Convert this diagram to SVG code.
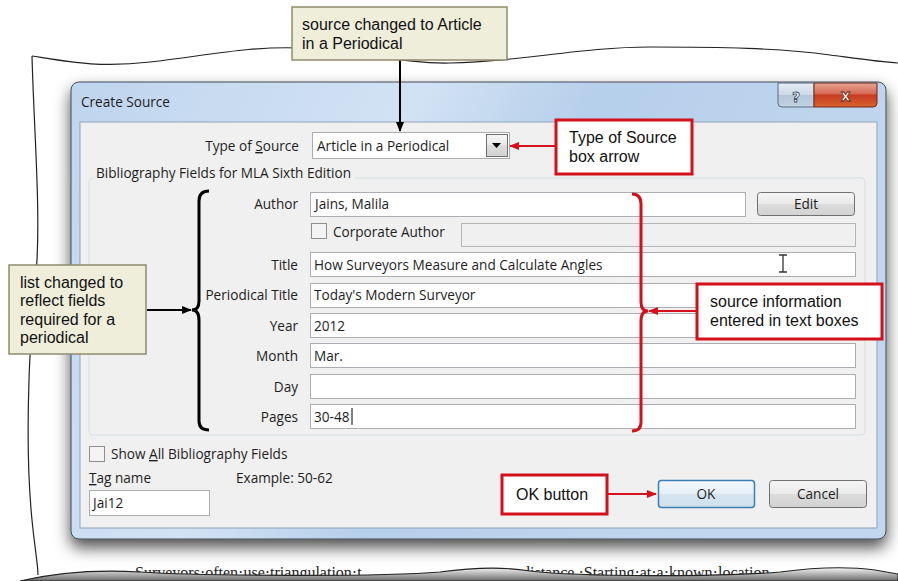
<svg xmlns="http://www.w3.org/2000/svg" width="898" height="581" viewBox="0 0 898 581">
<style>
.ui{font-family:"Open Sans","Noto Sans",sans-serif;font-size:13.6px;fill:#1e1e1e}
.lbl{text-anchor:end}
.co{font-family:"Liberation Sans",Arial,sans-serif;font-size:16px;fill:#111}
.box{fill:#fff;stroke:#abadb3;stroke-width:1}
.dis{fill:#f0f0f0;stroke:#b5b5b5;stroke-width:1}
.btn{stroke:#707070;stroke-width:1}
.beige{fill:#efeedb;stroke:#8e8c6c;stroke-width:1.5}
.red{fill:#fff;stroke:#d3101c;stroke-width:3}
.ak{stroke:#000;stroke-width:2;fill:none}
.ar{stroke:#d3101c;stroke-width:2;fill:none}
.u{text-decoration:underline}
</style>
<defs>
<marker id="mk" viewBox="0 0 10 10" refX="9" refY="5" markerWidth="5" markerHeight="5" orient="auto" markerUnits="strokeWidth"><path d="M0,1 L10,5 L0,9 Z" fill="#000"/></marker>
<marker id="mr" viewBox="0 0 10 10" refX="9" refY="5" markerWidth="5" markerHeight="5" orient="auto" markerUnits="strokeWidth"><path d="M0,1 L10,5 L0,9 Z" fill="#d3101c"/></marker>
<linearGradient id="frame" x1="0" y1="0" x2="1" y2="0.3">
<stop offset="0" stop-color="#bfd5ee"/><stop offset="0.4" stop-color="#d2e2f4"/><stop offset="0.6" stop-color="#b6cfea"/><stop offset="1" stop-color="#c2d7ef"/></linearGradient>
<linearGradient id="btn" x1="0" y1="0" x2="0" y2="1"><stop offset="0" stop-color="#f6f6f6"/><stop offset="0.5" stop-color="#e9e9e9"/><stop offset="0.5" stop-color="#dcdcdc"/><stop offset="1" stop-color="#d2d2d2"/></linearGradient>
<linearGradient id="okb" x1="0" y1="0" x2="0" y2="1"><stop offset="0" stop-color="#f2f8fc"/><stop offset="0.5" stop-color="#e6eff6"/><stop offset="0.5" stop-color="#d6e5f0"/><stop offset="1" stop-color="#cfe0ec"/></linearGradient>
<linearGradient id="xb" x1="0" y1="0" x2="0" y2="1"><stop offset="0" stop-color="#e8a493"/><stop offset="0.45" stop-color="#d56a54"/><stop offset="0.5" stop-color="#c63a22"/><stop offset="1" stop-color="#d9642e"/></linearGradient>
<linearGradient id="qb" x1="0" y1="0" x2="0" y2="1"><stop offset="0" stop-color="#e4ecf4"/><stop offset="0.5" stop-color="#ccd9e7"/><stop offset="0.5" stop-color="#b4c6da"/><stop offset="1" stop-color="#c3d3e4"/></linearGradient>
<linearGradient id="shade" x1="0" y1="0" x2="0" y2="1"><stop offset="0" stop-color="#f4f4f4"/><stop offset="1" stop-color="#6a6a6a"/></linearGradient>
<filter id="sh" x="-10%" y="-10%" width="120%" height="130%"><feDropShadow dx="0" dy="8" stdDeviation="8" flood-color="#000" flood-opacity="0.7"/></filter>
</defs>
<rect width="898" height="581" fill="#fff"/>
<g id="paper">
<path d="M32,56 C70,62 100,68 150,62 C210,55 250,46 300,48 C360,50 400,64 450,63 C520,62 580,47 650,47 C720,47 780,48 830,55 C860,59 880,62 898,63" fill="none" stroke="#222" stroke-width="1.2"/>
<path d="M32,56 C34,130 40,200 37,260 C34,310 30,340 29,380 C27,440 28,480 32,520 C35,550 38,565 38,575" fill="none" stroke="#222" stroke-width="1.2"/>
<text x="135" y="578" font-family="'Liberation Serif',serif" font-size="16" fill="#222">Surveyors·often·use·triangulation·t</text>
<text x="522" y="578" font-family="'Liberation Serif',serif" font-size="16" fill="#222">distance.·Starting·at·a·known·location</text>
<path d="M20,581 C50,574 90,569 140,572 C200,576 380,577 440,572 C470,568 500,566 530,571 C580,577 720,577 780,572 C810,568 845,566 875,570 C885,572 892,573 898,574 L898,581 Z" fill="url(#shade)" stroke="#222" stroke-width="1.2"/>
</g>
<g id="window" filter="url(#sh)">
<rect x="71" y="82" width="815" height="457" rx="8" fill="url(#frame)" stroke="#404a58" stroke-width="1"/>
</g>
<g id="dialog">
<text x="81" y="107" class="ui" font-size="14.5" fill="#1a1a1a">Create Source</text>
<path d="M778,83 L814,83 L814,107 L782,107 Q778,107 778,103 Z" fill="url(#qb)" stroke="#5a6b80" stroke-width="1"/>
<text x="796" y="102" font-family="'DejaVu Sans',sans-serif" font-size="14" font-weight="bold" text-anchor="middle" fill="#fff" stroke="#3b4a5c" stroke-width="0.8">?</text>
<path d="M814,83 L877,83 L877,103 Q877,107 873,107 L814,107 Z" fill="url(#xb)" stroke="#6b2a1c" stroke-width="1"/>
<text x="845.5" y="101" font-family="'DejaVu Sans',sans-serif" font-size="15" font-weight="bold" text-anchor="middle" fill="#fff" stroke="#5a2010" stroke-width="0.8">x</text>
<rect x="80" y="122" width="797" height="406" fill="#f0f0f0" stroke="#8ea3bc" stroke-width="1"/>
<rect x="89" y="178" width="776" height="257" rx="4" fill="none" stroke="#d5dfe5" stroke-width="1"/>
<rect x="93" y="165" width="262" height="16" fill="#f0f0f0"/>
<text x="96" y="178" class="ui">Bibliography Fields for MLA Sixth Edition</text>
</g>
<g id="type-of-source">
<text x="299" y="151" class="ui lbl">Type of <tspan class="u">S</tspan>ource</text>
<rect x="312.5" y="132.5" width="197" height="26" class="box"/>
<text x="317" y="151" class="ui">Article in a Periodical</text>
<rect x="486.5" y="134.5" width="21" height="22" fill="url(#btn)" stroke="#707070"/>
<path d="M492,143 L501,143 L496.5,148 Z" fill="#000"/>
</g>
<g id="fields">
<text x="298" y="209" class="ui lbl">Author</text>
<rect x="310.5" y="192.5" width="435" height="24" class="box"/>
<text x="315" y="209" class="ui">Jains, Malila</text>
<rect x="757.5" y="192.5" width="97" height="23" rx="3" fill="url(#btn)" class="btn"/>
<text x="806" y="209" class="ui" text-anchor="middle">Edit</text>
<rect x="311.5" y="223.5" width="15" height="15" fill="#f4f4f4" stroke="#8f8f8f"/>
<text x="333" y="237" class="ui">Corporate Author</text>
<rect x="461.5" y="223.5" width="394" height="23" class="dis"/>
<text x="298" y="270" class="ui lbl">Title</text>
<rect x="310.5" y="252.5" width="545" height="24" class="box"/>
<text x="314" y="270" class="ui">How Surveyors Measure and Calculate Angles</text>
<path d="M779,255 L787,255 M783,255 L783,272 M779,272 L787,272" stroke="#333" stroke-width="1.3" fill="none"/>
<text x="298" y="300" class="ui lbl">Periodical Title</text>
<rect x="310.5" y="283.5" width="545" height="24" class="box"/>
<text x="314" y="300" class="ui">Today's Modern Surveyor</text>
<text x="298" y="331" class="ui lbl">Year</text>
<rect x="310.5" y="313.5" width="545" height="24" class="box"/>
<text x="314" y="331" class="ui">2012</text>
<text x="298" y="361" class="ui lbl">Month</text>
<rect x="310.5" y="343.5" width="545" height="24" class="box"/>
<text x="314" y="361" class="ui">Mar.</text>
<text x="298" y="392" class="ui lbl">Day</text>
<rect x="310.5" y="374.5" width="545" height="24" class="box"/>
<text x="298" y="422" class="ui lbl">Pages</text>
<rect x="310.5" y="404.5" width="545" height="24" class="box"/>
<text x="314" y="422" class="ui">30-48</text>
<path d="M352,408 L352,425" stroke="#000" stroke-width="1"/>
</g>
<g id="bottom-controls">
<rect x="89.5" y="446.5" width="15" height="15" fill="#f4f4f4" stroke="#8f8f8f"/>
<text x="111" y="459" class="ui">Show <tspan class="u">A</tspan>ll Bibliography Fields</text>
<text x="89" y="483" class="ui"><tspan class="u">T</tspan>ag name</text>
<text x="236" y="483" class="ui">Example: 50-62</text>
<rect x="89.5" y="490.5" width="120" height="25" class="box"/>
<text x="93" y="508" class="ui">Jai12</text>
<rect x="658.5" y="480.5" width="96" height="27" rx="3" fill="url(#okb)" stroke="#3c7fb1" stroke-width="1.5"/>
<text x="706" y="499" class="ui" text-anchor="middle">OK</text>
<rect x="769.5" y="480.5" width="97" height="27" rx="3" fill="url(#btn)" class="btn"/>
<text x="818" y="499" class="ui" text-anchor="middle">Cancel</text>
</g>
<g id="braces">
<path d="M209,191 Q199,191 199,201 L199,301 Q199,310 192,310 Q199,310 199,320 L199,421 Q199,430 209,430" fill="none" stroke="#000" stroke-width="3"/>
<path d="M632,194 Q641,194 641,204 L641,302 Q641,311 648,311 Q641,311 641,321 L641,422 Q641,431 632,431" fill="none" stroke="#d3101c" stroke-width="3"/>
</g>
<g id="connectors">
<line x1="400" y1="60" x2="400" y2="131" class="ak" marker-end="url(#mk)"/>
<line x1="147" y1="310" x2="191" y2="310" class="ak" marker-end="url(#mk)"/>
<line x1="556" y1="146" x2="510" y2="146" class="ar" marker-end="url(#mr)"/>
<line x1="697" y1="311" x2="649" y2="311" class="ar" marker-end="url(#mr)"/>
<line x1="607" y1="494" x2="656" y2="494" class="ar" marker-end="url(#mr)"/>
</g>
<g id="callout-top">
<rect x="292" y="7" width="215" height="53" class="beige"/>
<text x="302" y="30" class="co">source changed to Article</text>
<text x="302" y="49" class="co">in a Periodical</text>
</g>
<g id="callout-left">
<rect x="9" y="265" width="137" height="89" class="beige"/>
<text x="20" y="287.5" class="co">list changed to</text>
<text x="20" y="306" class="co">reflect fields</text>
<text x="20" y="324.5" class="co">required for a</text>
<text x="20" y="343" class="co">periodical</text>
</g>
<g id="callout-type">
<rect x="556" y="120" width="136" height="54" class="red"/>
<text x="569" y="142.5" class="co">Type of Source</text>
<text x="569" y="161.5" class="co">box arrow</text>
</g>
<g id="callout-info">
<rect x="697" y="284" width="185" height="55" class="red"/>
<text x="710" y="307" class="co">source information</text>
<text x="710" y="326" class="co">entered in text boxes</text>
</g>
<g id="callout-ok">
<rect x="502" y="475" width="105" height="39" class="red"/>
<text x="516" y="500" class="co">OK button</text>
</g>
</svg>
